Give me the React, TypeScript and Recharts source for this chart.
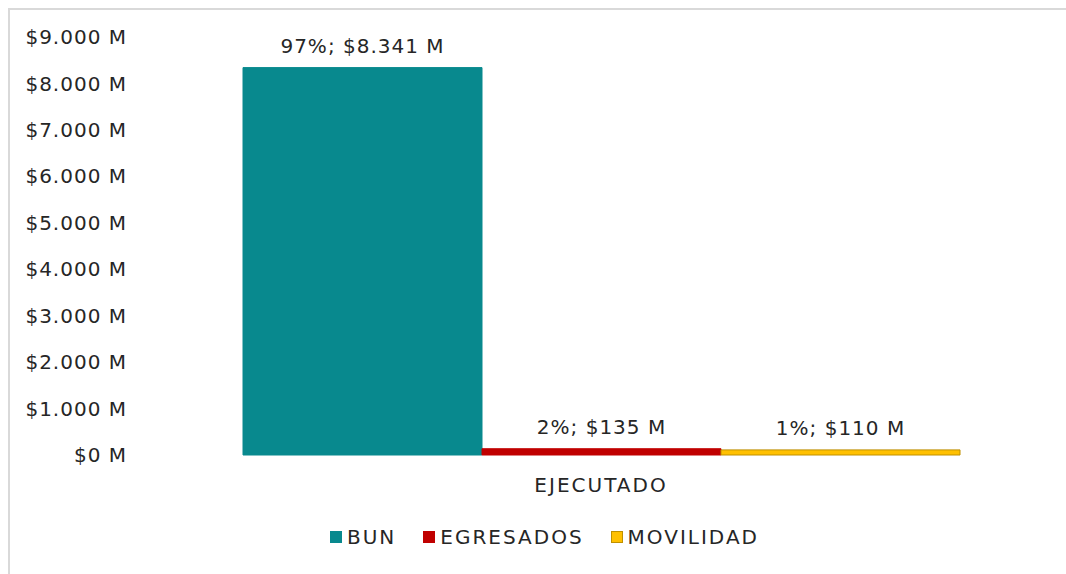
import { Bar, BarChart, LabelList, Legend, XAxis, YAxis } from "recharts";

const categories = ["EJECUTADO"];
const bun = [8341];
const egresados = [135];
const movilidad = [110];
const yTicks = [0, 1000, 2000, 3000, 4000, 5000, 6000, 7000, 8000, 9000];

const SERIES = [
  { key: "bun", name: "BUN", fill: "#08898E", stroke: "#08898E" },
  { key: "egresados", name: "EGRESADOS", fill: "#C00000", stroke: "#C00000" },
  { key: "movilidad", name: "MOVILIDAD", fill: "#FFC000", stroke: "#BF9000" },
];

const FONT = "'DejaVu Sans', sans-serif";
const TEXT = "#262626";

const data = categories.map((c, i) => ({
  name: c,
  bun: bun[i],
  egresados: egresados[i],
  movilidad: movilidad[i],
}));

const total = bun[0] + egresados[0] + movilidad[0];

function money(v: number): string {
  return String(Math.round(v)).replace(/\B(?=(\d{3})+(?!\d))/g, ".");
}

function labelText(v: unknown): string {
  const n = Number(v);
  return `${Math.round((n / total) * 100)}%; $${money(n)} M`;
}

function LegendBody() {
  return (
    <div style={{ display: "flex", alignItems: "center", fontFamily: FONT, fontSize: 20, letterSpacing: 2, color: TEXT }}>
      {SERIES.map((s, i) => (
        <span key={s.key} style={{ display: "flex", alignItems: "center", marginLeft: i === 0 ? 0 : 27 }}>
          <span
            style={{
              width: 12,
              height: 12,
              boxSizing: "border-box",
              background: s.fill,
              border: `1px solid ${s.stroke}`,
              marginRight: 5,
            }}
          />
          <span>{s.name}</span>
        </span>
      ))}
    </div>
  );
}

export default function App() {
  return (
    <div
      style={{
        position: "fixed",
        left: 8,
        top: 8,
        width: 1100,
        height: 600,
        borderTop: "2px solid #d9d9d9",
        borderLeft: "2px solid #d9d9d9",
        fontFamily: FONT,
        background: "#fff",
      }}
    >
      <BarChart
        width={1056}
        height={564}
        data={data}
        margin={{ top: 27, right: 4, left: 0, bottom: 79 }}
        barCategoryGap={103}
        barGap={0}
      >
        <XAxis
          dataKey="name"
          axisLine={false}
          tickLine={false}
          height={40}
          tickMargin={17}
          tick={{ fill: TEXT, fontSize: 20, letterSpacing: 2 }}
        />
        <YAxis
          type="number"
          domain={[0, 9000]}
          ticks={yTicks}
          width={130}
          axisLine={false}
          tickLine={false}
          tickMargin={7}
          tickFormatter={(v) => `$${money(v)} M`}
          tick={{ fill: TEXT, fontSize: 20, letterSpacing: 1 }}
        />
        <Legend
          layout="horizontal"
          verticalAlign="middle"
          align="center"
          content={LegendBody}
          wrapperStyle={{ left: 320, top: 515, width: "auto", bottom: "auto" }}
        />
        {SERIES.map((s) => (
          <Bar
            key={s.key}
            dataKey={s.key}
            name={s.name}
            fill={s.fill}
            stroke={s.stroke}
            strokeWidth={1}
            isAnimationActive={false}
          >
            <LabelList
              dataKey={s.key}
              position="top"
              offset={15}
              formatter={labelText}
              style={{ fill: TEXT, fontSize: 20, letterSpacing: 1 }}
            />
          </Bar>
        ))}
      </BarChart>
    </div>
  );
}
